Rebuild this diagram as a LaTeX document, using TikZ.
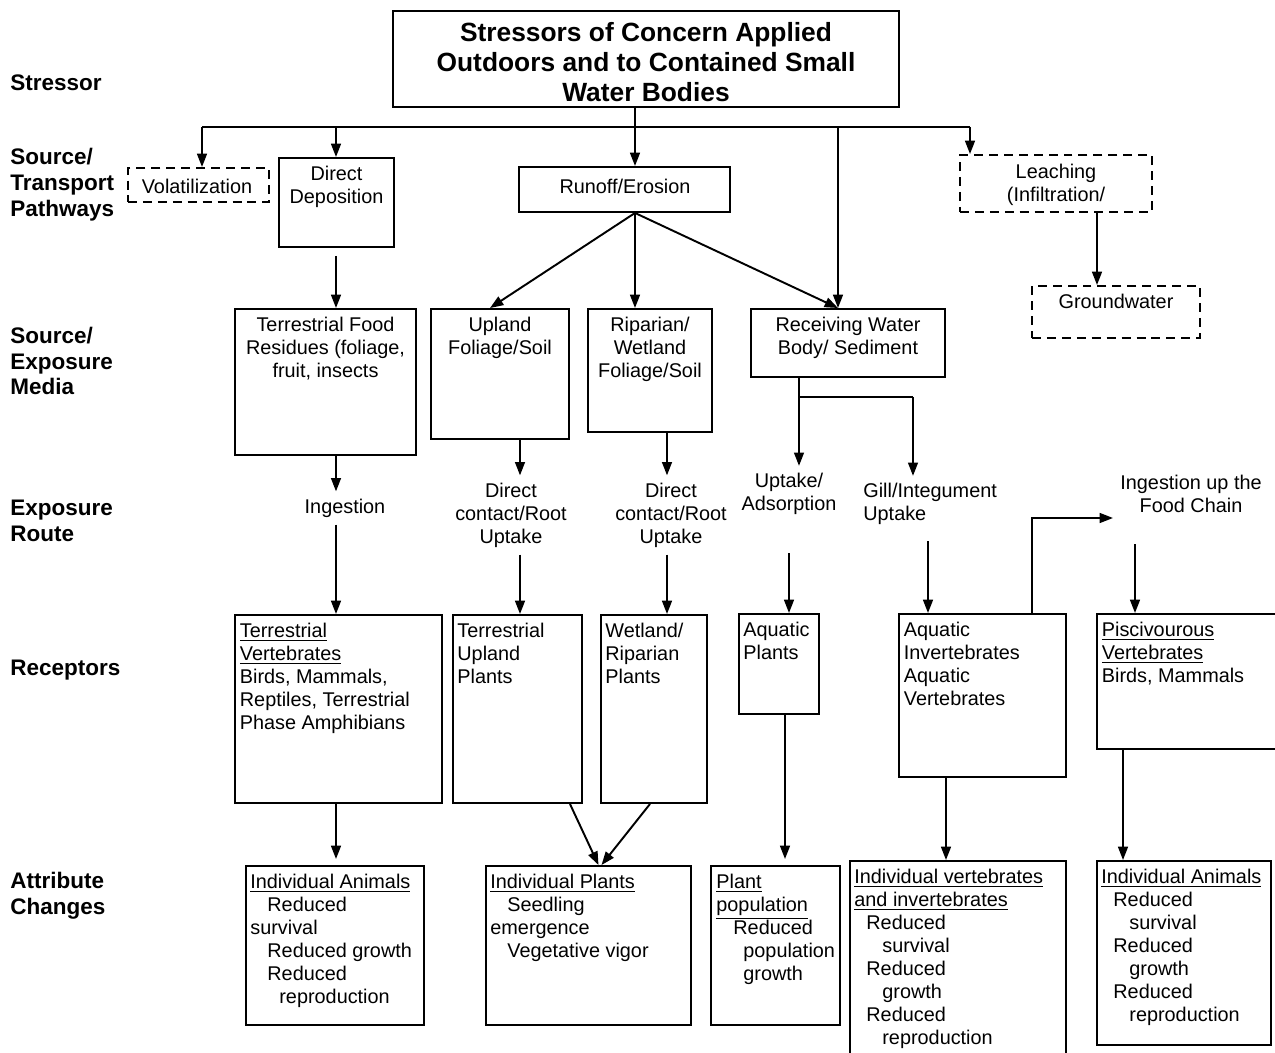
\documentclass[tikz,border=0pt]{standalone}
\usepackage{fontspec}
\setmainfont{Liberation Sans}
\usetikzlibrary{arrows.meta,fit}

\tikzset{
  tfont/.style={font=\fontsize{11.3}{13.1}\selectfont},
  box/.style={draw, line width=1.1pt, inner sep=0pt},
  dbox/.style={box, dash pattern=on 5.1pt off 3.4pt},
  txt/.style={tfont, inner sep=0.14cm},
  btxt/.style={tfont, inner sep=0pt},
  lbl/.style={font=\fontsize{12.8}{14.7}\selectfont\bfseries, align=left, anchor=west, inner sep=0pt},
  ln/.style={line width=1.1pt},
  arr/.style={ln, -{Triangle[length=7.6pt,width=5.6pt]}}
}

\begin{document}
\begin{tikzpicture}[x=0.02cm, y=-0.02cm]
\useasboundingbox (0,0) rectangle (1275,1053);

% row labels
\node[lbl] (lstress) at (10,83) {Stressor};
\node[lbl] (lpath) at (10,185) {Source/\\Transport\\Pathways};
\node[lbl] (lmedia) at (10,361) {Source/\\Exposure\\Media};
\node[lbl] (lroute) at (10,521) {Exposure\\Route};
\node[lbl] (lrecep) at (10,670) {Receptors};
\node[lbl] (lattr) at (10,896) {Attribute\\Changes};

% stressor
\node[box, fit={(393,11) (899,107)}] (title) {};
\node[inner sep=0pt, font=\fontsize{15}{17.3}\selectfont\bfseries, align=center] (titletxt) at (646,62)
  {Stressors of Concern Applied\\Outdoors and to Contained Small\\Water Bodies};

% pathways
\node[dbox, fit={(128,168) (269,202)}] (volat) {};
\node[btxt] (volattxt) at (197,186) {Volatilization};
\node[box, fit={(279,158) (394,247)}] (ddep) {};
\node[btxt, align=center, anchor=north] (ddeptxt) at ([yshift=-0.17cm]ddep.north) {Direct\\Deposition};
\node[box, fit={(519,167) (730,212)}] (runoff) {};
\node[btxt] (runofftxt) at (625,186) {Runoff/Erosion};
\node[dbox, fit={(960,155) (1152,212)}] (leach) {};
\node[btxt, align=center] (leachtxt) at (1056,185) {Leaching\\(Infiltration/};
\node[dbox, fit={(1032,286) (1200,338)}] (ground) {};
\node[btxt, anchor=north] (groundtxt) at ([yshift=-0.17cm]ground.north) {Groundwater};

% media
\node[box, fit={(235,309) (416,455)}] (terrfood) {};
\node[btxt, align=center, anchor=north] (terrfoodtxt) at ([yshift=-0.17cm]terrfood.north) {Terrestrial Food\\Residues (foliage,\\fruit, insects};
\node[box, fit={(431,309) (569,439)}] (upland) {};
\node[btxt, align=center, anchor=north] (uplandtxt) at ([yshift=-0.17cm]upland.north) {Upland\\Foliage/Soil};
\node[box, fit={(588,309) (712,432)}] (ripar) {};
\node[btxt, align=center, anchor=north] (ripartxt) at ([yshift=-0.17cm]ripar.north) {Riparian/\\Wetland\\Foliage/Soil};
\node[box, fit={(751,309) (945,377)}] (recv) {};
\node[btxt, align=center, anchor=north] (recvtxt) at ([yshift=-0.17cm]recv.north) {Receiving Water\\Body/ Sediment};

% routes
\node[txt] (ingest) at (345,508) {Ingestion};
\node[txt, align=center] (contact1) at (511,515) {Direct\\contact/Root\\Uptake};
\node[txt, align=center] (contact2) at (671,515) {Direct\\contact/Root\\Uptake};
\node[txt, align=center] (uptake) at (789,494) {Uptake/\\Adsorption};
\node[txt, align=left, anchor=west] (gill) at (856,504) {Gill/Integument\\Uptake};
\node[txt, align=center] (foodchain) at (1191,494) {Ingestion up the\\Food Chain};

% receptors
\node[box, fit={(235,615) (442,803)}] (terrvert) {};
\node[btxt, align=left, anchor=north west] (terrverttxt) at ([xshift=0.11cm, yshift=-0.17cm]terrvert.north west)
  {\underline{Terrestrial}\\\underline{Vertebrates}\\Birds, Mammals,\\Reptiles, Terrestrial\\Phase Amphibians};
\node[box, fit={(453,615) (582,803)}] (terrplants) {};
\node[btxt, align=left, anchor=north west] (terrplantstxt) at ([xshift=0.1cm, yshift=-0.17cm]terrplants.north west)
  {Terrestrial\\Upland\\Plants};
\node[box, fit={(601,615) (707,803)}] (wetland) {};
\node[btxt, align=left, anchor=north west] (wetlandtxt) at ([xshift=0.1cm, yshift=-0.17cm]wetland.north west)
  {Wetland/\\Riparian\\Plants};
\node[box, fit={(739,614) (819,714)}] (aqplants) {};
\node[btxt, align=left, anchor=north west] (aqplantstxt) at ([xshift=0.1cm, yshift=-0.17cm]aqplants.north west)
  {Aquatic\\Plants};
\node[box, fit={(899,614) (1066,777)}] (aqinv) {};
\node[btxt, align=left, anchor=north west] (aqinvtxt) at ([xshift=0.11cm, yshift=-0.17cm]aqinv.north west)
  {Aquatic\\Invertebrates\\Aquatic\\Vertebrates};
\node[box, fit={(1097,614) (1300,749)}] (pisc) {};
\node[btxt, align=left, anchor=north west] (pisctxt) at ([xshift=0.11cm, yshift=-0.17cm]pisc.north west)
  {\underline{Piscivourous}\\\underline{Vertebrates}\\Birds, Mammals};

% attribute changes
\node[box, fit={(246,866) (424,1025)}] (indanim) {};
\node[btxt, align=left, anchor=north west] (indanimtxt) at ([xshift=0.1cm, yshift=-0.17cm]indanim.north west)
  {\underline{Individual Animals}\\\hspace*{0.34cm}Reduced\\survival\\\hspace*{0.34cm}Reduced growth\\\hspace*{0.34cm}Reduced\\\hspace*{0.58cm}reproduction};
\node[box, fit={(486,866) (691,1025)}] (indplants) {};
\node[btxt, align=left, anchor=north west] (indplantstxt) at ([xshift=0.1cm, yshift=-0.17cm]indplants.north west)
  {\underline{Individual Plants}\\\hspace*{0.34cm}Seedling\\emergence\\\hspace*{0.34cm}Vegetative vigor};
\node[box, fit={(711,866) (840,1025)}] (plantpop) {};
\node[btxt, align=left, anchor=north west] (plantpoptxt) at ([xshift=0.12cm, yshift=-0.17cm]plantpop.north west)
  {\underline{Plant}\\\underline{population}\\\hspace*{0.34cm}Reduced\\\hspace*{0.54cm}population\\\hspace*{0.54cm}growth};
\node[box, fit={(850,861) (1066,1080)}] (indvert) {};
\node[btxt, align=left, anchor=north west] (indverttxt) at ([xshift=0.1cm, yshift=-0.17cm]indvert.north west)
  {\underline{Individual vertebrates}\\\underline{and invertebrates}\\\hspace*{0.24cm}Reduced\\\hspace*{0.56cm}survival\\\hspace*{0.24cm}Reduced\\\hspace*{0.56cm}growth\\\hspace*{0.24cm}Reduced\\\hspace*{0.56cm}reproduction};
\node[box, fit={(1097,861) (1271,1045)}] (indanim2) {};
\node[btxt, align=left, anchor=north west] (indanim2txt) at ([xshift=0.1cm, yshift=-0.17cm]indanim2.north west)
  {\underline{Individual Animals}\\\hspace*{0.24cm}Reduced\\\hspace*{0.56cm}survival\\\hspace*{0.24cm}Reduced\\\hspace*{0.56cm}growth\\\hspace*{0.24cm}Reduced\\\hspace*{0.56cm}reproduction};

% connector columns
\coordinate (tap) at (635,127);
\coordinate (busL) at (202,127);
\coordinate (busR) at (970,127);
\coordinate (rwtap) at (838,127);
\coordinate (gwtap) at (1097,250);
\coordinate (colA) at (336,0);
\coordinate (colB) at (520,0);
\coordinate (colC) at (667,0);
\coordinate (colD) at (799,397);
\coordinate (colE) at (913,397);
\coordinate (colD2) at (789,0);
\coordinate (colGill) at (928,0);
\coordinate (colF) at (1032,518);
\coordinate (colG) at (1135,0);
\coordinate (colH) at (946,0);
\coordinate (colI) at (1123,0);
\coordinate (colJ) at (785,0);

\draw[ln] (title.south -| tap) -- (tap);
\draw[ln] (busL) -- (busR);
\draw[arr] (busL) -- (busL |- volat.north);
\draw[arr] (colA |- busL) -- (colA |- ddep.north);
\draw[arr] (tap) -- (tap |- runoff.north);
\draw[arr] (rwtap) -- (rwtap |- recv.north);
\draw[arr] (busR) -- (busR |- leach.north);
\draw[arr] (tap |- runoff.south) -- ([xshift=-0.2cm]upland.north);
\draw[arr] (tap |- runoff.south) -- (tap |- ripar.north);
\draw[arr] (tap |- runoff.south) -- (rwtap |- recv.north);
\draw[arr] (gwtap |- leach.south) -- (gwtap |- ground.north);

\draw[arr, shorten <=0.16cm] (colA |- ddep.south) -- (colA |- terrfood.north);
\draw[arr] (colA |- terrfood.south) -- (colA |- ingest.north);
\draw[arr] (colA |- ingest.south) -- (colA |- terrvert.north);
\draw[arr, shorten >=0.12cm] (colA |- terrvert.south) -- (colA |- indanim.north);

\draw[arr] (colB |- upland.south) -- (colB |- contact1.north);
\draw[arr] (colB |- contact1.south) -- (colB |- terrplants.north);
\draw[arr] (colC |- ripar.south) -- (colC |- contact2.north);
\draw[arr] (colC |- contact2.south) -- (colC |- wetland.north);

\draw[ln] (colD |- recv.south) -- (colD) -- (colE);
\draw[arr] (colD) -- (colD |- uptake.north);
\draw[arr] (colE) -- (colE |- gill.north);
\draw[arr, shorten <=0.62cm] (colD2 |- uptake.south) -- (colD2 |- aqplants.north);
\draw[arr, shorten <=0.18cm] (colGill |- gill.south) -- (colGill |- aqinv.north);
\draw[arr] (colF |- aqinv.north) -- (colF) -- (foodchain.west |- colF);
\draw[arr, shorten <=0.48cm] (colG |- foodchain.south) -- (colG |- pisc.north);

\draw[arr] ([xshift=-0.26cm]terrplants.south east) -- ([xshift=0.2cm]indplants.north);
\draw[arr] ([xshift=-0.08cm]wetland.south) -- ([xshift=0.26cm]indplants.north);
\draw[arr, shorten >=0.12cm] (colJ |- aqplants.south) -- (colJ |- plantpop.north);
\draw[arr] (colH |- aqinv.south) -- (colH |- indvert.north);
\draw[arr] (colI |- pisc.south) -- (colI |- indanim2.north);
\end{tikzpicture}
\end{document}
